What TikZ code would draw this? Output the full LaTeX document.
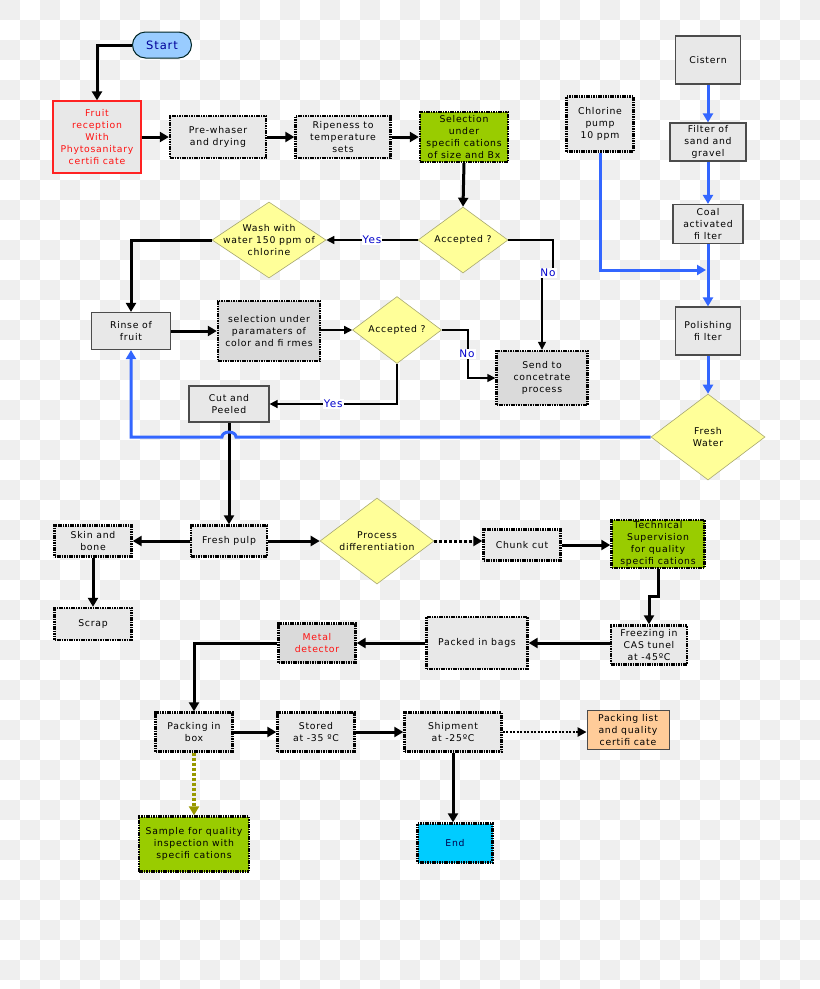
\documentclass[tikz,border=0pt]{standalone}
\usepackage{fontspec}
\setmainfont{DejaVu Sans}[LetterSpace=8]
\usetikzlibrary{arrows.meta,shapes.geometric}
\definecolor{checker}{HTML}{EFEFEF}
\definecolor{boxfill}{HTML}{E8E8E8}
\definecolor{darkfill}{HTML}{DADADA}
\definecolor{greenfill}{HTML}{99CC00}
\definecolor{diafill}{HTML}{FFFF99}
\definecolor{diaedge}{HTML}{A8A870}
\definecolor{startfill}{HTML}{99CCFF}
\definecolor{endfill}{HTML}{00CCFF}
\definecolor{orangefill}{HTML}{FFCC99}
\definecolor{waterblue}{HTML}{3366FF}
\definecolor{lblblue}{HTML}{0000CC}
\definecolor{olive}{HTML}{999900}
\definecolor{redtxt}{HTML}{FF1111}
\definecolor{redline}{HTML}{FF2222}
\tikzset{
  base/.style={font=\fontsize{9.3}{12}\selectfont, align=center, inner sep=1pt, text=black},
  sz/.style 2 args={minimum width=#1pt, minimum height=#2pt},
  solidbox/.style={base, draw=black!70, line width=1.2pt, fill=boxfill},
  dotbox/.style={base, draw=black, line width=2.4pt, dash pattern=on 1.6pt off 0.8pt, fill=boxfill},
  dia/.style={diamond, draw=diaedge, line width=0.6pt, fill=diafill, inner sep=0pt},
  dlabel/.style={base},
  lbl/.style={font=\fontsize{10.5}{12}\selectfont, text=lblblue, fill=white, inner sep=1pt},
  thick arrow/.style={line width=3pt, -{Triangle[length=9pt,width=10pt]}},
  thin arrow/.style={line width=1.5pt, -{Triangle[length=8pt,width=8pt]}},
  water/.style={line width=3pt, draw=waterblue, -{Triangle[length=9pt,width=10pt]}, color=waterblue},
  dots arrow/.style={line width=3pt, dash pattern=on 3pt off 2pt, -{Triangle[length=9pt,width=10pt]}},
  smalldots arrow/.style={line width=2.4pt, dash pattern=on 2pt off 1.5pt, -{Triangle[length=9pt,width=9pt]}},
  olive arrow/.style={line width=3.5pt, color=olive, dash pattern=on 3pt off 2pt, -{Triangle[length=9pt,width=10pt]}},
}
\begin{document}
\begin{tikzpicture}[x=1pt,y=-1pt]
\useasboundingbox (0,0) rectangle (820,989);
% transparent-style checker background
\fill[white] (0,0) rectangle (820,989);
\foreach \j in {0,...,49}{
  \pgfmathtruncatemacro\off{mod(\j,2)}
  \foreach \i in {0,...,20}{
    \fill[checker] ({(2*\i+\off)*20},{\j*20}) rectangle ++(20,20);
  }
}
% ---------- nodes ----------
\node[base, draw=black!70!teal, line width=1pt, fill=startfill, rounded corners=13pt, sz={59}{26},
      font=\fontsize{11.5}{13}\selectfont, text=blue!60!black] (start) at (162,45) {Start};
\node[base, draw=redline, line width=1.3pt, fill=boxfill, text=redtxt, sz={88}{72}] (fruit) at (97,137) {Fruit\\reception\\With\\Phytosanitary\\certifi cate};
\node[dotbox, sz={96}{42}] (pre) at (218,137) {Pre-whaser\\and drying};
\node[dotbox, sz={95}{42}] (ripe) at (343,137) {Ripeness to\\temperature\\sets};
\node[dotbox, fill=greenfill, sz={88}{50}, inner sep=0pt] (sel) at (464,137) {Selection\\under\\specifi cations\\of size and Bx};
\node[dia, sz={90}{66}, label={[dlabel]center:Accepted ?}] (acc1) at (463,240) {};
\node[dia, sz={114}{76}, label={[dlabel]center:Wash with\\water 150 ppm of\\chlorine}] (wash) at (269,240) {};
\node[solidbox, sz={79}{37}] (rinse) at (131,331) {Rinse of\\fruit};
\node[dotbox, fill=darkfill, sz={102}{60}] (selp) at (269,331) {selection under\\paramaters of\\color and fi rmes};
\node[dia, sz={89}{67}, label={[dlabel]center:Accepted ?}] (acc2) at (397,330) {};
\node[dotbox, fill=darkfill, sz={91}{54}] (send) at (542,378) {Send to\\concetrate\\process};
\node[solidbox, sz={80}{36}] (cut) at (229,404) {Cut and\\Peeled};
\node[solidbox, sz={65}{48}] (cist) at (708,60) {Cistern};
\node[dotbox, sz={67}{55}] (chl) at (600,124) {Chlorine\\pump\\10 ppm};
\node[solidbox, sz={76}{38}] (filt) at (708,142) {Filter of\\sand and\\gravel};
\node[solidbox, sz={70}{39}] (coal) at (708,224) {Coal\\activated\\fi lter};
\node[solidbox, sz={65}{48}] (pol) at (708,331) {Polishing\\fi lter};
\node[dia, sz={114}{86}, label={[dlabel]center:Fresh\\Water}] (fw) at (708,437) {};
\node[dotbox, sz={76}{31}] (pulp) at (229,541) {Fresh pulp};
\node[dotbox, sz={77}{31}] (skin) at (93,541) {Skin and\\bone};
\node[dotbox, sz={77}{32}] (scrap) at (93,624) {Scrap};
\node[dia, sz={114}{86}, label={[dlabel]center:Process\\differentiation}] (proc) at (377,541) {};
\node[dotbox, sz={77}{31}] (chunk) at (522,545) {Chunk cut};
\node[dotbox, fill=greenfill, sz={93}{48}, inner sep=0pt] (tech) at (658,544) {Technical\\Supervision\\for quality\\specifi cations};
\node[dotbox, sz={76}{39}, inner sep=0pt] (freeze) at (649,645) {Freezing in\\CAS tunel\\at -45ºC};
\node[dotbox, sz={101}{52}] (bags) at (477,643) {Packed in bags};
\node[dotbox, fill=darkfill, text=redtxt, sz={77}{39}] (metal) at (317,643) {Metal\\detector};
\node[dotbox, sz={77}{39}] (box) at (194,732) {Packing in\\box};
\node[dotbox, sz={77}{39}] (stored) at (316,732) {Stored\\at -35 ºC};
\node[dotbox, sz={97}{39}] (ship) at (453,732) {Shipment\\at -25ºC};
\node[solidbox, fill=orangefill, line width=0.8pt, sz={82}{39}, inner sep=0pt] (plist) at (628,730) {Packing list\\and quality\\certifi cate};
\node[dotbox, fill=greenfill, sz={110}{55}] (sample) at (194,844) {Sample for quality\\inspection with\\specifi cations};
\node[dotbox, fill=endfill, text=blue!30!black, sz={75}{39}] (end) at (455,843) {End};
% ---------- connectors ----------
\draw[thick arrow] (start.west) -| (fruit.north);
\draw[thick arrow] (fruit.east) -- (pre.west);
\draw[thick arrow] (pre.east) -- (ripe.west);
\draw[thick arrow] (ripe.east) -- (sel.west);
\draw[thick arrow] (sel.south) -- (acc1.north);
\draw[thin arrow] (acc1.west) -- node[lbl] (yes1) {Yes} (wash.east);
\draw[thin arrow] (acc1.east) -- (553,240) -- (553,273) -- (send.north |- 0,273) -- (send.north);
\node[lbl] (no1) at (548,273) {No};
\draw[thick arrow] (wash.west) -| (rinse.north);
\draw[thick arrow] (rinse.east) -- (rinse.east -| selp.west);
\draw[thin arrow] (selp.east |- acc2.west) -- (acc2.west);
\draw[thin arrow] (acc2.east) -- (468,330) |- (send.west);
\node[lbl] (no2) at (467,354) {No};
\draw[thin arrow] (acc2.south) |- node[lbl, pos=0.75] (yes2) {Yes} (cut.east);
\draw[thick arrow] (cut.south) -- (pulp.north);
% water line
\draw[water] (cist.south) -- (filt.north);
\draw[water] (filt.south) -- (coal.north);
\draw[water] (coal.south) -- (pol.north);
\draw[water] (pol.south) -- (fw.north);
\coordinate (join) at (706,270);
\draw[water] (chl.south) |- (join);
\draw[water] (fw.west) -- (236,437) arc[start angle=0, end angle=180, x radius=7pt, y radius=5pt]
   -- (rinse.south |- 0,437) -- (rinse.south);
% lower part
\draw[thick arrow] (pulp.west) -- (skin.east);
\draw[thick arrow] (skin.south) -- (scrap.north);
\draw[thick arrow] (pulp.east) -- (proc.west);
\draw[dots arrow] (proc.east) -- (proc.east -| chunk.west);
\draw[thick arrow] (chunk.east) -- (chunk.east -| tech.west);
\draw[thick arrow] (tech.south) -- ++(0,27) -| (freeze.north);
\draw[thick arrow] (freeze.west |- bags.east) -- (bags.east);
\draw[thick arrow] (bags.west) -- (metal.east);
\draw[thick arrow] (metal.west) -| (box.north);
\draw[thick arrow] (box.east) -- (stored.west);
\draw[thick arrow] (stored.east) -- (ship.west);
\draw[smalldots arrow] (ship.east) -- (ship.east -| plist.west);
\draw[thick arrow] (ship.south) -- (ship.south |- end.north);
\draw[olive arrow] (box.south) -- (sample.north);
\end{tikzpicture}
\end{document}
